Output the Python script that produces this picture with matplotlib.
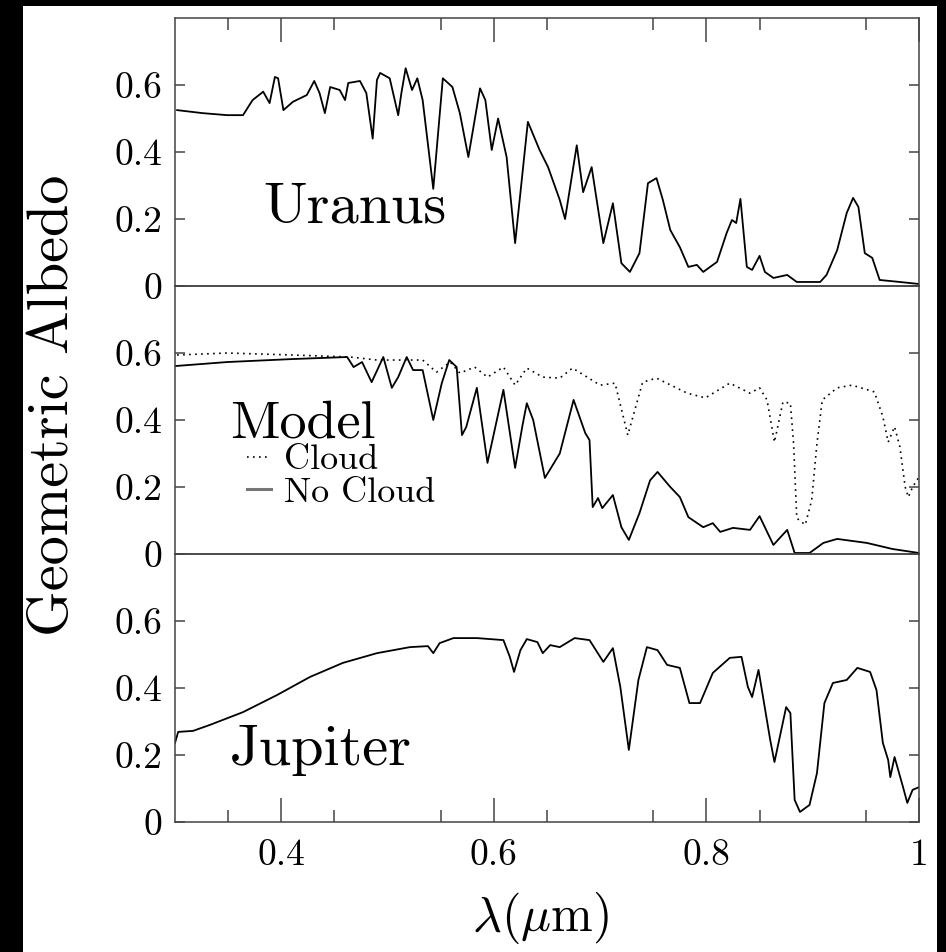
"""
Geometric albedo spectra of Uranus, a cloud / no-cloud model and Jupiter.
"""

import numpy as np
import matplotlib
matplotlib.use("Agg")
import matplotlib.pyplot as plt
from matplotlib.patches import Rectangle
from matplotlib.lines import Line2D

plt.rcParams['font.family'] = ['cmr10', 'DejaVu Serif']
plt.rcParams['mathtext.fontset'] = 'cm'
plt.rcParams['axes.formatter.use_mathtext'] = True

uranus_wl = [0.302, 0.326, 0.349, 0.364, 0.373, 0.383, 0.389, 0.394, 0.397, 0.402,
             0.411, 0.424, 0.431, 0.436, 0.441, 0.446, 0.455, 0.460, 0.463, 0.474,
             0.480, 0.486, 0.490, 0.493, 0.502, 0.510, 0.513, 0.517, 0.523, 0.528,
             0.533, 0.543, 0.552, 0.561, 0.568, 0.576, 0.587, 0.592, 0.598, 0.604,
             0.612, 0.620, 0.632, 0.643, 0.651, 0.662, 0.667, 0.678, 0.684, 0.692,
             0.703, 0.712, 0.720, 0.728, 0.737, 0.745, 0.753, 0.759, 0.766, 0.775,
             0.783, 0.791, 0.797, 0.810, 0.819, 0.824, 0.828, 0.832, 0.838, 0.843,
             0.850, 0.855, 0.863, 0.876, 0.885, 0.907, 0.913, 0.923, 0.932, 0.938,
             0.943, 0.949, 0.956, 0.963, 0.982, 1.000]
uranus_alb = [0.525, 0.516, 0.510, 0.510, 0.555, 0.580, 0.546, 0.624, 0.620, 0.525,
              0.550, 0.570, 0.612, 0.576, 0.516, 0.594, 0.585, 0.555, 0.606, 0.612,
              0.576, 0.440, 0.615, 0.636, 0.620, 0.510, 0.576, 0.650, 0.585, 0.620,
              0.555, 0.290, 0.620, 0.594, 0.516, 0.385, 0.590, 0.555, 0.406, 0.500,
              0.385, 0.128, 0.490, 0.406, 0.355, 0.257, 0.200, 0.420, 0.280, 0.355,
              0.128, 0.247, 0.068, 0.042, 0.098, 0.307, 0.322, 0.257, 0.167, 0.116,
              0.057, 0.063, 0.042, 0.072, 0.158, 0.197, 0.188, 0.260, 0.057, 0.048,
              0.090, 0.042, 0.024, 0.033, 0.012, 0.012, 0.033, 0.107, 0.218, 0.263,
              0.236, 0.098, 0.084, 0.018, 0.012, 0.006]

cloud_wl = [0.302, 0.349, 0.411, 0.465, 0.490, 0.533, 0.546, 0.559, 0.568, 0.582,
            0.594, 0.609, 0.620, 0.631, 0.646, 0.662, 0.674, 0.700, 0.714, 0.726,
            0.740, 0.753, 0.782, 0.799, 0.822, 0.841, 0.850, 0.857, 0.864, 0.872,
            0.879, 0.882, 0.885, 0.893, 0.899, 0.904, 0.909, 0.923, 0.937, 0.958,
            0.966, 0.971, 0.977, 0.982, 0.987, 0.990, 0.994, 1.000]
cloud_alb = [0.594, 0.600, 0.594, 0.588, 0.579, 0.579, 0.543, 0.573, 0.540, 0.558,
             0.528, 0.558, 0.504, 0.555, 0.528, 0.525, 0.555, 0.504, 0.510, 0.355,
             0.513, 0.525, 0.480, 0.466, 0.510, 0.480, 0.496, 0.460, 0.334, 0.454,
             0.450, 0.330, 0.107, 0.087, 0.160, 0.330, 0.460, 0.496, 0.504, 0.484,
             0.410, 0.334, 0.380, 0.320, 0.200, 0.170, 0.200, 0.230]

nocloud_wl = [0.300, 0.349, 0.411, 0.462, 0.468, 0.476, 0.485, 0.496, 0.504, 0.510,
              0.518, 0.524, 0.533, 0.543, 0.551, 0.558, 0.565, 0.570, 0.574, 0.584,
              0.594, 0.609, 0.620, 0.627, 0.631, 0.637, 0.648, 0.662, 0.675, 0.686,
              0.690, 0.693, 0.698, 0.702, 0.712, 0.720, 0.727, 0.737, 0.747, 0.754,
              0.766, 0.775, 0.783, 0.797, 0.806, 0.813, 0.825, 0.841, 0.850, 0.863,
              0.876, 0.883, 0.897, 0.910, 0.923, 0.951, 0.975, 1.000]
nocloud_alb = [0.561, 0.573, 0.582, 0.588, 0.558, 0.573, 0.513, 0.588, 0.496, 0.528,
               0.588, 0.549, 0.549, 0.400, 0.510, 0.579, 0.558, 0.355, 0.379, 0.496,
               0.272, 0.490, 0.257, 0.385, 0.450, 0.400, 0.227, 0.300, 0.460, 0.361,
               0.340, 0.140, 0.167, 0.137, 0.176, 0.080, 0.042, 0.122, 0.220, 0.245,
               0.200, 0.170, 0.110, 0.080, 0.092, 0.066, 0.078, 0.072, 0.113, 0.027,
               0.072, 0.003, 0.003, 0.033, 0.045, 0.033, 0.015, 0.003]

jupiter_wl = [0.300, 0.303, 0.317, 0.333, 0.364, 0.396, 0.427, 0.458, 0.490, 0.521,
              0.538, 0.543, 0.549, 0.562, 0.584, 0.609, 0.615, 0.619, 0.625, 0.631,
              0.641, 0.646, 0.653, 0.662, 0.676, 0.690, 0.703, 0.712, 0.719, 0.727,
              0.736, 0.744, 0.754, 0.763, 0.775, 0.784, 0.794, 0.806, 0.822, 0.833,
              0.839, 0.843, 0.849, 0.860, 0.864, 0.875, 0.879, 0.883, 0.888, 0.897,
              0.904, 0.911, 0.919, 0.932, 0.942, 0.954, 0.960, 0.966, 0.971, 0.973,
              0.977, 0.985, 0.989, 0.994, 1.000]
jupiter_alb = [0.236, 0.269, 0.272, 0.290, 0.328, 0.379, 0.433, 0.475, 0.504, 0.522,
               0.525, 0.504, 0.534, 0.549, 0.549, 0.543, 0.493, 0.448, 0.513, 0.546,
               0.537, 0.504, 0.528, 0.522, 0.549, 0.543, 0.478, 0.519, 0.403, 0.215,
               0.424, 0.522, 0.513, 0.469, 0.460, 0.355, 0.355, 0.445, 0.490, 0.493,
               0.403, 0.373, 0.454, 0.245, 0.179, 0.343, 0.325, 0.066, 0.030, 0.051,
               0.146, 0.355, 0.415, 0.424, 0.460, 0.448, 0.394, 0.236, 0.185, 0.134,
               0.194, 0.104, 0.057, 0.096, 0.104]

y_ticks = [0, 0.2, 0.4, 0.6]
y_tick_labels = ['0', '0.2', '0.4', '0.6']
x_ticks = [0.4, 0.6, 0.8, 1.0]
x_tick_labels = ['0.4', '0.6', '0.8', '1']

W, H = 946, 952
fig = plt.figure(figsize=(W / 100, H / 100), dpi=100, facecolor='black')
fig.patches.append(Rectangle((23 / W, 0), (937 - 23) / W, (H - 6) / H,
                             transform=fig.transFigure, facecolor='white',
                             edgecolor='none', zorder=-10))

left = 175 / W
width = (919 - 175) / W
ph = 268 / H
bottoms = [1 - 286 / H, 1 - 554 / H, 1 - 822 / H]

frame_col = '#444444'
axes = []
for i, b in enumerate(bottoms):
    ax = fig.add_axes([left, b, width, ph], sharex=axes[0] if axes else None)
    ax.set_zorder(1)
    ax.patch.set_alpha(0)
    ax.set_xlim(0.3, 1.0)
    ax.set_ylim(0, 0.8)
    ax.set_yticks(y_ticks)
    ax.set_yticklabels(y_tick_labels)
    ax.set_xticks(x_ticks)
    ax.set_xticks(np.arange(0.35, 1.0, 0.1), minor=True)
    for sp in ax.spines.values():
        sp.set_color(frame_col)
        sp.set_linewidth(1.1)
    ax.tick_params(axis='y', which='major', direction='in', length=7, width=1.1,
                   color=frame_col, left=True, right=True, labelsize=27, pad=9)
    ax.tick_params(axis='y', which='minor', left=False, right=False)
    ax.tick_params(axis='x', which='both', direction='in', width=1.1, color=frame_col,
                   top=(i == 0), bottom=(i == 2), labelbottom=(i == 2),
                   labelsize=27, pad=12)
    ax.tick_params(axis='x', which='major', length=17)
    ax.tick_params(axis='x', which='minor', length=8.5)
    axes.append(ax)

ax_u, ax_m, ax_j = axes
ax_j.set_xticklabels(x_tick_labels)

line_kw = dict(color='black', lw=1.3)
ax_u.plot(uranus_wl, uranus_alb, **line_kw)
ax_m.plot(cloud_wl, cloud_alb, color='black', lw=1.2, linestyle=(0, (1, 2.6)))
ax_m.plot(nocloud_wl, nocloud_alb, **line_kw)
ax_j.plot(jupiter_wl, jupiter_alb, **line_kw)

ax_u.text(0.383, 0.19, 'Uranus', fontsize=42, ha='left', va='baseline')
ax_m.text(0.352, 0.349, 'Model', fontsize=39, ha='left', va='baseline')
ax_j.text(0.352, 0.17, 'Jupiter', fontsize=42, ha='left', va='baseline')

handles = [Line2D([], [], color='black', lw=1.2, linestyle=(0, (1, 2.6))),
           Line2D([], [], color='#777777', lw=2.2)]
ax_m.legend(handles, ['Cloud', 'No Cloud'], loc='upper left',
            bbox_to_anchor=(0.097, 0.41), frameon=False, fontsize=26,
            handlelength=0.65, handletextpad=0.38, labelspacing=0.0,
            borderpad=0, borderaxespad=0)

fig.text(53 / W, 1 - 405 / H, 'Geometric Albedo', rotation=90, fontsize=42,
         ha='center', va='center')
fig.text(540 / W, 1 - 918 / H, r'$\lambda(\mu{\rm m})$', fontsize=36,
         ha='center', va='center')

fig.savefig('out.png', dpi=100, facecolor=fig.get_facecolor())
